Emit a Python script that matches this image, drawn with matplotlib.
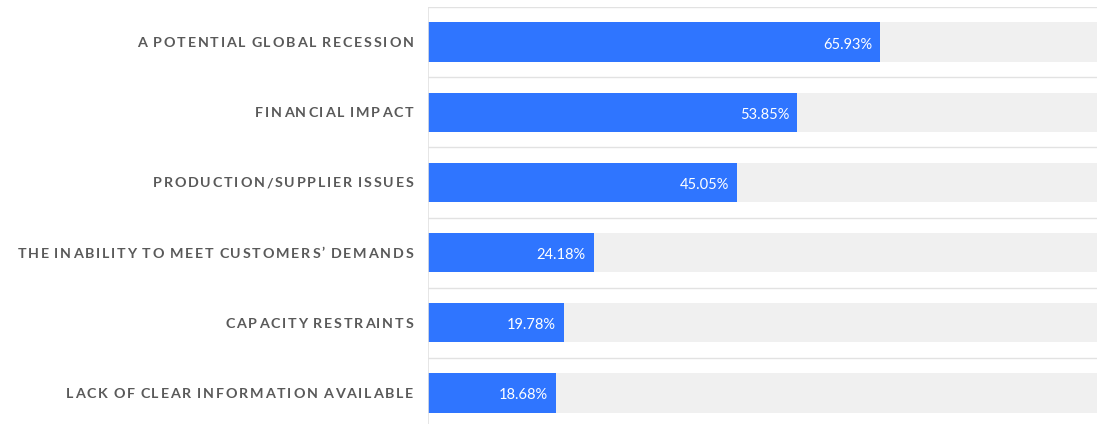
import numpy as np
import matplotlib.pyplot as plt
from matplotlib.font_manager import FontProperties
from matplotlib.transforms import ScaledTranslation

categories = ['A POTENTIAL GLOBAL RECESSION', 'FINANCIAL IMPACT', 'PRODUCTION/SUPPLIER ISSUES',
              'THE INABILITY TO MEET CUSTOMERS\u2019 DEMANDS', 'CAPACITY RESTRAINTS',
              'LACK OF CLEAR INFORMATION AVAILABLE']
values = [65.93, 53.85, 45.05, 24.18, 19.78, 18.68]

blue = '#2f75ff'
track = '#f0f0f0'
grid = '#e2e2e2'
label_color = '#595959'

dpi = 100
fig = plt.figure(figsize=(10.97, 4.24), dpi=dpi)
ax = fig.add_axes([428 / 1097, -4 / 424, 669 / 1097, 421 / 424])

y = np.arange(len(categories))
ax.barh(y, [100] * len(y), height=0.56, color=track, zorder=1)
ax.barh(y, values, height=0.56, color=blue, zorder=2)

for yy in np.arange(-0.5, len(categories)):
    ax.axhline(yy, color=grid, lw=1, zorder=0)
ax.axvline(0, color=grid, lw=1.2, zorder=3)

ax.set_xlim(0, 97.6)
ax.set_ylim(len(categories) - 0.5, -0.5)
for s in ax.spines.values():
    s.set_visible(False)
ax.set_xticks([])
ax.set_yticks([])

# value labels inside bar ends
val_prop = FontProperties(family='Lato', size=10.5)
for yy, v in zip(y, values):
    tr = ax.transData + ScaledTranslation(-8 / dpi, -6.5 / dpi, fig.dpi_scale_trans)
    ax.text(v, yy, '{:.2f}%'.format(v), transform=tr, ha='right', va='baseline',
            color='white', fontproperties=val_prop, zorder=4)

# category labels with letter spacing, drawn char by char
lab_prop = FontProperties(family='Lato', weight='bold', size=10.3)
renderer = fig.canvas.get_renderer()


def tw(s):
    return renderer.get_text_width_height_descent(s, lab_prop, ismath=False)[0]


base = tw('||')
advs = [[tw('|' + c + '|') - base - (1.5 if c == ' ' else 0) for c in lab] for lab in categories]
# tracking chosen so the longest label spans ~396 px
longest = max(range(len(categories)), key=lambda i: len(categories[i]))
spacing = (396 - sum(advs[longest])) / (len(categories[longest]) - 1)

for yy, lab, adv in zip(y, categories, advs):
    total = sum(adv) + spacing * (len(lab) - 1)
    x = -14.7 - total
    for c, a in zip(lab, adv):
        if c != ' ':
            tr = ax.get_yaxis_transform() + ScaledTranslation((x + a / 2) / dpi, -5.0 / dpi,
                                                              fig.dpi_scale_trans)
            ax.text(0, yy, c, transform=tr, ha='center', va='baseline',
                    color=label_color, fontproperties=lab_prop, clip_on=False)
        x += a + spacing

fig.savefig('out.png', dpi=dpi)
